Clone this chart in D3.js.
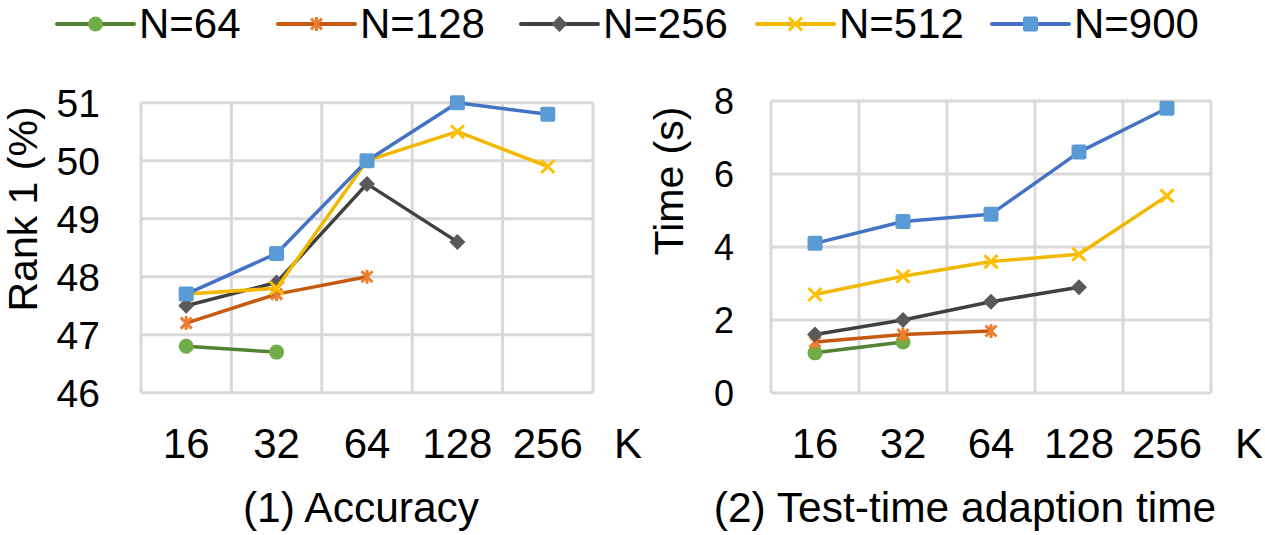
<!DOCTYPE html>
<html>
<head>
<meta charset="utf-8">
<script src="https://cdn.jsdelivr.net/npm/d3@7/dist/d3.min.js"></script>
<style>
  body { margin: 0; background: #fff; }
  text { font-family: Arial, "Liberation Sans", sans-serif; fill: #000; }
</style>
</head>
<body>
<div id="chart-container"></div>
<script>
// Category labels (K) and series names (N)
const kLabels = ["16", "32", "64", "128", "256"];
const seriesNames = ["N=64", "N=128", "N=256", "N=512", "N=900"];

// (1) Accuracy, Rank 1 (%)
const rankN64  = [46.8, 46.7, null, null, null];
const rankN128 = [47.2, 47.7, 48.0, null, null];
const rankN256 = [47.5, 47.9, 49.6, 48.6, null];
const rankN512 = [47.7, 47.8, 50.0, 50.5, 49.9];
const rankN900 = [47.7, 48.4, 50.0, 51.0, 50.8];
const rankTicks = [46, 47, 48, 49, 50, 51];

// (2) Test-time adaption time, seconds
const timeN64  = [1.1, 1.4, null, null, null];
const timeN128 = [1.4, 1.6, 1.7, null, null];
const timeN256 = [1.6, 2.0, 2.5, 2.9, null];
const timeN512 = [2.7, 3.2, 3.6, 3.8, 5.4];
const timeN900 = [4.1, 4.7, 4.9, 6.6, 7.8];
const timeTicks = [0, 2, 4, 6, 8];

// Excel-ish styles per series: line colour, marker colour, marker shape
const lineColors   = ["#548235", "#C55A11", "#404040", "#F2B800", "#4472C4"];
const markerColors = ["#70AD47", "#ED7D31", "#595959", "#FFC000", "#5B9BD5"];
const markerShapes = ["circle", "star", "diamond", "x", "square"];

const svg = d3.select("#chart-container").append("svg")
  .attr("width", 1265)
  .attr("height", 535);

// draw one marker at (0,0) inside group g
function drawMarker(g, shape, color) {
  if (shape === "circle") {
    g.append("circle").attr("r", 7.5).attr("fill", color);
  } else if (shape === "square") {
    g.append("rect").attr("x", -7.5).attr("y", -7.5).attr("width", 15).attr("height", 15)
      .attr("rx", 2).attr("fill", color);
  } else if (shape === "diamond") {
    g.append("path").attr("d", "M0,-8L8,0L0,8L-8,0Z").attr("fill", color);
  } else if (shape === "x") {
    g.append("path").attr("d", "M-6.5,-6.5L6.5,6.5M-6.5,6.5L6.5,-6.5")
      .attr("stroke", color).attr("stroke-width", 3).attr("fill", "none");
  } else if (shape === "star") {
    g.append("path").attr("d", "M-5.5,-5.5L5.5,5.5M-5.5,5.5L5.5,-5.5M0,-7L0,7")
      .attr("stroke", color).attr("stroke-width", 3).attr("fill", "none");
  }
}

const panels = [
  {
    series: [rankN64, rankN128, rankN256, rankN512, rankN900],
    ticks: rankTicks, domain: [46, 51],
    left: 141, right: 593, top: 102.7, bottom: 392.7,
    tickFont: 39, tickX: 100,
    yTitle: "Rank 1 (%)", yTitleX: 37, yTitleY: 209,
    kX: 628, title: "(1) Accuracy", titleX: 361
  },
  {
    series: [timeN64, timeN128, timeN256, timeN512, timeN900],
    ticks: timeTicks, domain: [0, 8],
    left: 771, right: 1211, top: 101, bottom: 393,
    tickFont: 36, tickX: 734,
    yTitle: "Time (s)", yTitleX: 683, yTitleY: 181,
    kX: 1249, title: "(2) Test-time adaption time", titleX: 965
  }
];

panels.forEach(p => {
  const xScale = d3.scaleBand().domain(kLabels).range([p.left, p.right]).padding(0);
  const yScale = d3.scaleLinear().domain(p.domain).range([p.bottom, p.top]);
  const cx = k => xScale(k) + xScale.bandwidth() / 2;

  const g = svg.append("g");

  // grid: horizontal at each tick, vertical at band edges
  g.selectAll(".hgrid").data(p.ticks).join("line")
    .attr("x1", p.left).attr("x2", p.right)
    .attr("y1", d => yScale(d)).attr("y2", d => yScale(d))
    .attr("stroke", "#D9D9D9").attr("stroke-width", 3);

  const edges = kLabels.map(k => xScale(k)).concat([p.right]);
  g.selectAll(".vgrid").data(edges).join("line")
    .attr("x1", d => d).attr("x2", d => d)
    .attr("y1", p.top).attr("y2", p.bottom)
    .attr("stroke", "#D9D9D9").attr("stroke-width", 3);

  // y tick labels
  g.selectAll(".ytick").data(p.ticks).join("text")
    .attr("x", p.tickX)
    .attr("y", d => yScale(d))
    .attr("dy", "0.36em")
    .attr("text-anchor", "end")
    .attr("font-size", p.tickFont + "px")
    .text(d => d);

  // x tick labels
  g.selectAll(".xtick").data(kLabels).join("text")
    .attr("x", d => cx(d))
    .attr("y", 458)
    .attr("text-anchor", "middle")
    .attr("font-size", "42px")
    .text(d => d);

  g.append("text")
    .attr("x", p.kX).attr("y", 458)
    .attr("text-anchor", "middle")
    .attr("font-size", "42px")
    .text("K");

  // y axis title
  g.append("text")
    .attr("transform", `translate(${p.yTitleX},${p.yTitleY}) rotate(-90)`)
    .attr("text-anchor", "middle")
    .attr("font-size", "41px")
    .text(p.yTitle);

  // panel title
  g.append("text")
    .attr("x", p.titleX).attr("y", 522)
    .attr("text-anchor", "middle")
    .attr("font-size", "42.5px")
    .text(p.title);

  // series lines and markers
  const line = d3.line()
    .defined(d => d.v != null)
    .x(d => cx(d.k))
    .y(d => yScale(d.v));

  p.series.forEach((vals, i) => {
    const pts = vals.map((v, j) => ({ k: kLabels[j], v: v }));
    g.append("path")
      .datum(pts)
      .attr("d", line)
      .attr("fill", "none")
      .attr("stroke", lineColors[i])
      .attr("stroke-width", 3.5)
      .attr("stroke-linejoin", "round");

    pts.filter(d => d.v != null).forEach(d => {
      const m = g.append("g").attr("transform", `translate(${cx(d.k)},${yScale(d.v)})`);
      drawMarker(m, markerShapes[i], markerColors[i]);
    });
  });
});

// Legend across the top
const legendX = [57, 278, 521, 757, 992];
const legend = svg.append("g");
seriesNames.forEach((name, i) => {
  const item = legend.append("g").attr("transform", `translate(${legendX[i]},24)`);
  item.append("line")
    .attr("x1", 0).attr("x2", 77).attr("y1", 0).attr("y2", 0)
    .attr("stroke", lineColors[i]).attr("stroke-width", 4)
    .attr("stroke-linecap", "round");
  const m = item.append("g").attr("transform", "translate(38.5,0)");
  drawMarker(m, markerShapes[i], markerColors[i]);
  item.append("text")
    .attr("x", 82).attr("y", 13.5)
    .attr("font-size", "42px")
    .text(name);
});
</script>
</body>
</html>
